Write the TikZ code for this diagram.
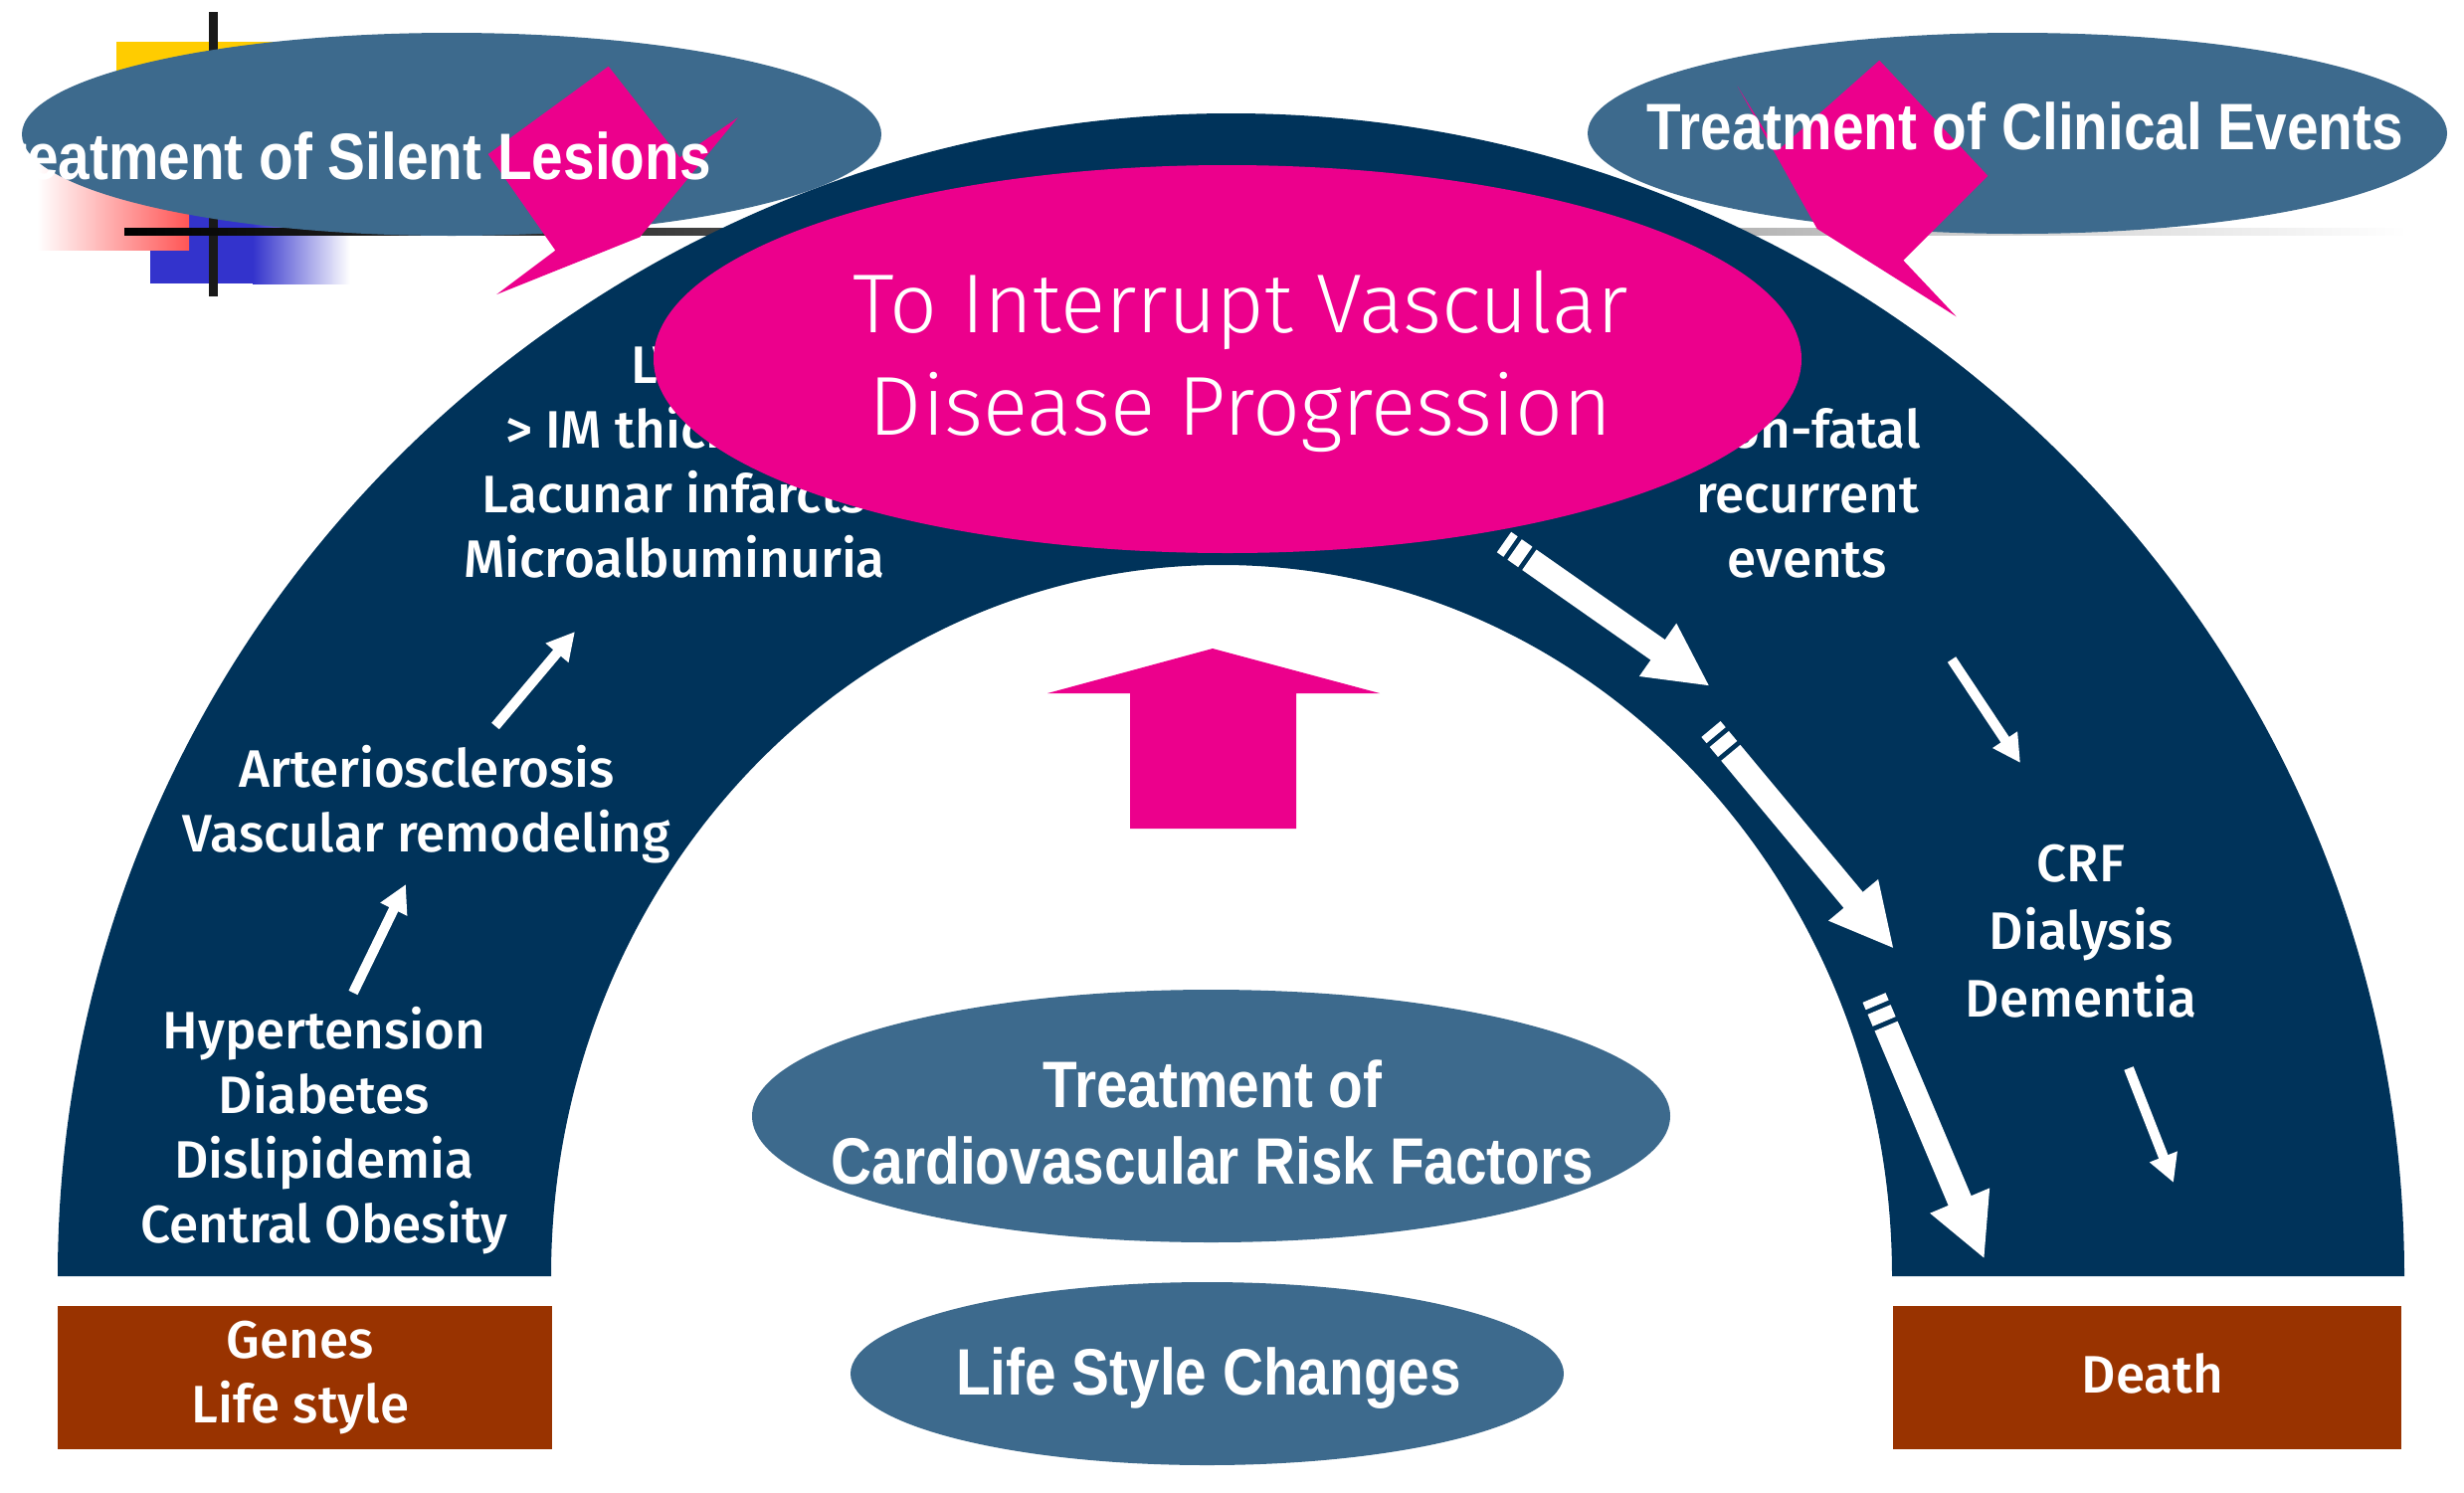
\documentclass[tikz,border=0pt]{standalone}
\usepackage{fontspec}
\setmainfont{Fira Sans}
\newfontfamily\medfont{Fira Sans Medium}
\newfontfamily\lightfont{Fira Sans Light}
\newfontfamily\narrowfont{Liberation Sans}[FakeStretch=0.86]
\usetikzlibrary{shapes.geometric, arrows.meta, calc}
\definecolor{navy}{RGB}{0,51,90}
\definecolor{steel}{RGB}{61,106,141}
\definecolor{hotpink}{RGB}{236,0,140}
\definecolor{rust}{RGB}{153,51,0}
\definecolor{decoyellow}{RGB}{255,204,0}
\definecolor{decored}{RGB}{255,85,85}
\definecolor{decoblue}{RGB}{51,51,204}
\tikzset{
  ell/.style={ellipse, fill=steel, draw=none, inner sep=0pt},
  pinkell/.style={ellipse, fill=hotpink, draw=none, inner sep=0pt},
  rustbox/.style={rectangle, fill=rust, draw=none, inner sep=0pt},
  medtxt/.style={text=white, font=\medfont\fontsize{53}{65}\selectfont, align=center, inner sep=0pt},
  narrowtxt/.style={text=white, font=\narrowfont\bfseries\fontsize{66}{77}\selectfont, align=center, inner sep=0pt},
  bigtxt/.style={text=white, font=\lightfont\fontsize{84}{103}\selectfont, align=center, inner sep=0pt},
  smallarrow/.style={draw=white, line width=10pt, -{Triangle[length=28pt, width=28pt]}},
  bigshaft/.style={draw=white, line width=25pt},
}
\newcommand\stripedarrow[2]{%
  \draw[bigshaft] (#1) -- ($(#1)!8pt!(#2)$);
  \draw[bigshaft] ($(#1)!13pt!(#2)$) -- ($(#1)!26pt!(#2)$);
  \draw[bigshaft, -{Triangle[length=64pt, width=60pt]}] ($(#1)!31pt!(#2)$) -- (#2);
}
\begin{document}
\begin{tikzpicture}[x=1pt, y=-1pt]
\useasboundingbox (0,0) rectangle (2477,1500);
\fill[white] (0,0) rectangle (2477,1500);

% template decoration
\fill[decoyellow] (117,42) rectangle (330,160);
\fill[decoblue] (151,200) rectangle (255,285);
\shade[left color=decoblue, right color=white] (254,200) rectangle (352,285);
\shade[left color=white, right color=decored] (37,165) rectangle (190,251);
\fill[black!90] (210,12) rectangle (219,298);
\shade[left color=black, right color=white] (125,229) rectangle (2420,236);

% arch
\fill[navy] (58,1283) arc[start angle=180, end angle=0, x radius=1179.5pt, y radius=1169pt]
  -- (1902,1283) arc[start angle=0, end angle=180, x radius=674pt, y radius=715pt] -- cycle;

% top ellipses
\node[ell, minimum width=864pt, minimum height=204pt] (e1) at (454,135) {};
\node[ell, minimum width=864pt, minimum height=202pt] (e2) at (2028,134) {};

% pink callouts
\fill[hotpink] (611.7,66.7) -- (683.3,158.3) -- (741.7,118.3) -- (643.3,238.3)
  -- (499.3,296) -- (558.3,251.7) -- (490.7,155) -- cycle;
\fill[hotpink] (1889.3,60.7) -- (1998.3,176.7) -- (1913.3,261.7) -- (1966.7,318.3)
  -- (1826.7,230) -- (1746.7,86.7) -- (1786.7,151.7) -- cycle;

\begin{scope}
\clip (22,0) rectangle (2477,400);
\node[narrowtxt, anchor=base east] (t1) at (715,180) {Treatment of Silent Lesions};
\end{scope}
\node[narrowtxt, anchor=base] (t2) at (2036,150) {Treatment of Clinical Events};

% texts on the arch
\node[medtxt] (lesions) at (678,465) {LVH\\> IM thickness\\Lacunar infarcts\\Microalbuminuria};
\node[medtxt] (nonfatal) at (1817,496) {Non-fatal\\recurrent\\events};

% central pink ellipse
\node[pinkell, minimum width=1154pt, minimum height=390pt] (pe) at (1234,361) {};
\node[bigtxt] (pt) at (1247,363) {To Interrupt Vascular\\Disease Progression};

\node[medtxt] (risk) at (326,1137) {Hypertension\\Diabetes\\Dislipidemia\\Central Obesity};
\node[medtxt] (arterio) at (429,809) {Arteriosclerosis\\Vascular remodeling};
\node[medtxt, text depth=0pt] (crf) at (2092,936) {CRF\\[3pt]Dialysis\\[3pt]Dementia};

% small arrows
\coordinate (la1s) at (355,998);
\coordinate (la1e) at (408,889);
\coordinate (la2s) at (498,730);
\coordinate (la2e) at (578,635);
\coordinate (ra1s) at (1962,663);
\coordinate (ra1e) at (2031,767);
\coordinate (ra2s) at (2140,1074);
\coordinate (ra2e) at (2185,1189);
\draw[smallarrow] (la1s) -- (la1e);
\draw[smallarrow] (la2s) -- (la2e);
\draw[smallarrow] (ra1s) -- (ra1e);
\draw[smallarrow] (ra2s) -- (ra2e);

% big striped arrows
\coordinate (b1s) at (1512,545);
\coordinate (b1e) at (1719,690);
\coordinate (b2s) at (1720,733);
\coordinate (b2e) at (1904,954);
\coordinate (b3s) at (1884,1003);
\coordinate (b3e) at (1995,1266);
\stripedarrow{b1s}{b1e}
\stripedarrow{b2s}{b2e}
\stripedarrow{b3s}{b3e}

% pink up arrow
\fill[hotpink] (1219,652) -- (1387,697) -- (1303,697) -- (1303,833) -- (1136,833)
  -- (1136,697) -- (1053,697) -- cycle;

% lower ellipses
\node[ell, minimum width=923pt, minimum height=254pt] (e3) at (1217.5,1122) {};
\node[narrowtxt] (t3) at (1219,1128) {Treatment of\\Cardiovascular Risk Factors};
\node[ell, minimum width=717pt, minimum height=184pt] (e4) at (1213.5,1381) {};
\node[narrowtxt, anchor=base] (t4) at (1215,1402) {Life Style Changes};

% bottom boxes
\node[rustbox, minimum width=497pt, minimum height=144pt] (genes) at (306.5,1385) {};
\node[medtxt] (genest) at (302,1385) {Genes\\Life style};
\node[rustbox, minimum width=511pt, minimum height=144pt] (death) at (2158.5,1385) {};
\node[medtxt] (deatht) at (2164,1381) {Death};
\end{tikzpicture}
\end{document}
